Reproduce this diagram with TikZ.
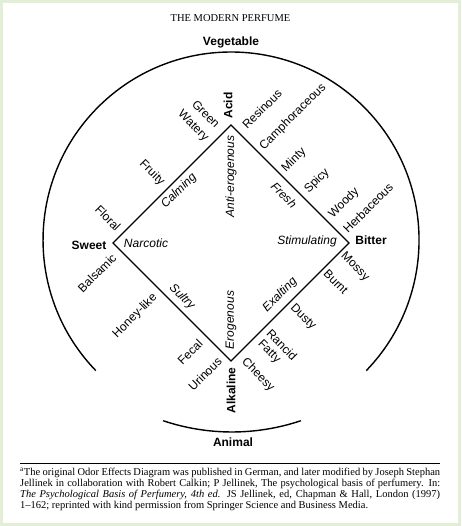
\documentclass[tikz,border=0pt]{standalone}
\usepackage{fontspec}
\setmainfont{Liberation Sans}
\newfontfamily\serifft{Liberation Serif}
\definecolor{pale}{RGB}{226,239,214}
\newcommand{\fnfont}{\serifft\fontsize{10.5}{11.2}\selectfont\spaceskip=0.25em plus 0.6em minus 0.12em\relax}
\newcommand{\fnline}[1]{\makebox[420pt][s]{#1}}
\begin{document}
\begin{tikzpicture}[x=1pt,y=-1pt,
  lab/.style={font=\fontsize{12}{12}\selectfont, inner sep=0pt},
  cat/.style={font=\fontsize{12}{12}\selectfont\bfseries, inner sep=0pt},
  eff/.style={font=\fontsize{12}{12}\selectfont\itshape, inner sep=0pt},
  edge/.style={line width=1.3pt, line join=miter},
  circ/.style={line width=1.4pt},
  fn/.style={font=\fnfont, inner sep=0pt, anchor=base west}]
\useasboundingbox (0,0) rectangle (461,526);
\fill[white] (0,0) rectangle (461,526);
\draw[pale, line width=3pt] (1.5,1.5) rectangle (459.5,524.5);

% title
\node[font=\serifft\fontsize{10.5}{10.5}\selectfont, inner sep=0pt] (title) at (230.5,18.5) {THE MODERN PERFUME};

% circle arcs
\draw[circ] (95.8,370.6) arc[start angle=136, end angle=404, radius=188];
\draw[circ] (163.1,420.7) arc[start angle=108.6, end angle=71.4, radius=216];

% diamond
\coordinate (vA) at (231,125);
\coordinate (vS) at (113,243);
\coordinate (vB) at (349,243);
\coordinate (vK) at (231,361);
\draw[edge] (vA) -- (vB) -- (vK) -- (vS) -- cycle;

% categories
\node[cat] (veg) at (231,42) {Vegetable};
\node[cat] (ani) at (233,442.5) {Animal};
\node[cat] (sweet) at (89,245) {Sweet};
\node[cat] (bitter) at (371,240.5) {Bitter};
\node[cat, rotate=90] (acid) at (228,105.5) {Acid};
\node[cat, rotate=90] (alk) at (231,390.5) {Alkaline};

% effects (inside)
\node[eff] (narc) at (146,243.5) {Narcotic};
\node[eff] (stim) at (307,241.5) {Stimulating};
\node[eff, rotate=90] (anti) at (231,176.5) {Anti-erogenous};
\node[eff, rotate=90] (ero) at (231,320) {Erogenous};
\node[eff, rotate=45] (calm) at (179,191) {Calming};
\node[eff, rotate=-45] (fresh) at (284,195) {Fresh};
\node[eff, rotate=-45] (sultry) at (182,297) {Sultry};
\node[eff, rotate=45] (exalt) at (280,295) {Exalting};

% odours upper left
\node[lab, rotate=-45] (green) at (206,114) {Green};
\node[lab, rotate=-45] (watery) at (193,126) {Watery};
\node[lab, rotate=-45] (fruity) at (152,173) {Fruity};
\node[lab, rotate=-45] (floral) at (108,218) {Floral};
% upper right
\node[lab, rotate=45] (resin) at (262,109) {Resinous};
\node[lab, rotate=45] (camph) at (293,117) {Camphoraceous};
\node[lab, rotate=45] (minty) at (294,160) {Minty};
\node[lab, rotate=45] (spicy) at (317,181) {Spicy};
\node[lab, rotate=45] (woody) at (344,203) {Woody};
\node[lab, rotate=45] (herb) at (368,208) {Herbaceous};
% lower left
\node[lab, rotate=45] (bals) at (97,273) {Balsamic};
\node[lab, rotate=45] (honey) at (135,316) {Honey-like};
\node[lab, rotate=45] (fecal) at (190,352) {Fecal};
\node[lab, rotate=45] (urin) at (205,374) {Urinous};
% lower right
\node[lab, rotate=-45] (mossy) at (355,267) {Mossy};
\node[lab, rotate=-45] (burnt) at (336,282) {Burnt};
\node[lab, rotate=-45] (dusty) at (303,317) {Dusty};
\node[lab, rotate=-45] (rancid) at (282,345) {Rancid};
\node[lab, rotate=-45] (fatty) at (269,352) {Fatty};
\node[lab, rotate=-45] (cheesy) at (258,375) {Cheesy};

% footnote
\draw[line width=0.8pt] (20,463.3) -- (440,463.3);
\node[fn] (fn1) at (20,475) {\fnline{\textsuperscript{a}The original Odor Effects Diagram was published in German, and later modified by Joseph Stephan}};
\node[fn] (fn2) at (20,486.3) {\fnline{Jellinek in collaboration with Robert Calkin; P Jellinek, The psychological basis of perfumery. In:}};
\node[fn] (fn3) at (20,497.5) {\fnline{\textit{The Psychological Basis of Perfumery, 4th ed.} JS Jellinek, ed, Chapman \& Hall, London (1997)}};
\node[fn] (fn4) at (20,508.7) {1–162; reprinted with kind permission from Springer Science and Business Media.};
\end{tikzpicture}
\end{document}
